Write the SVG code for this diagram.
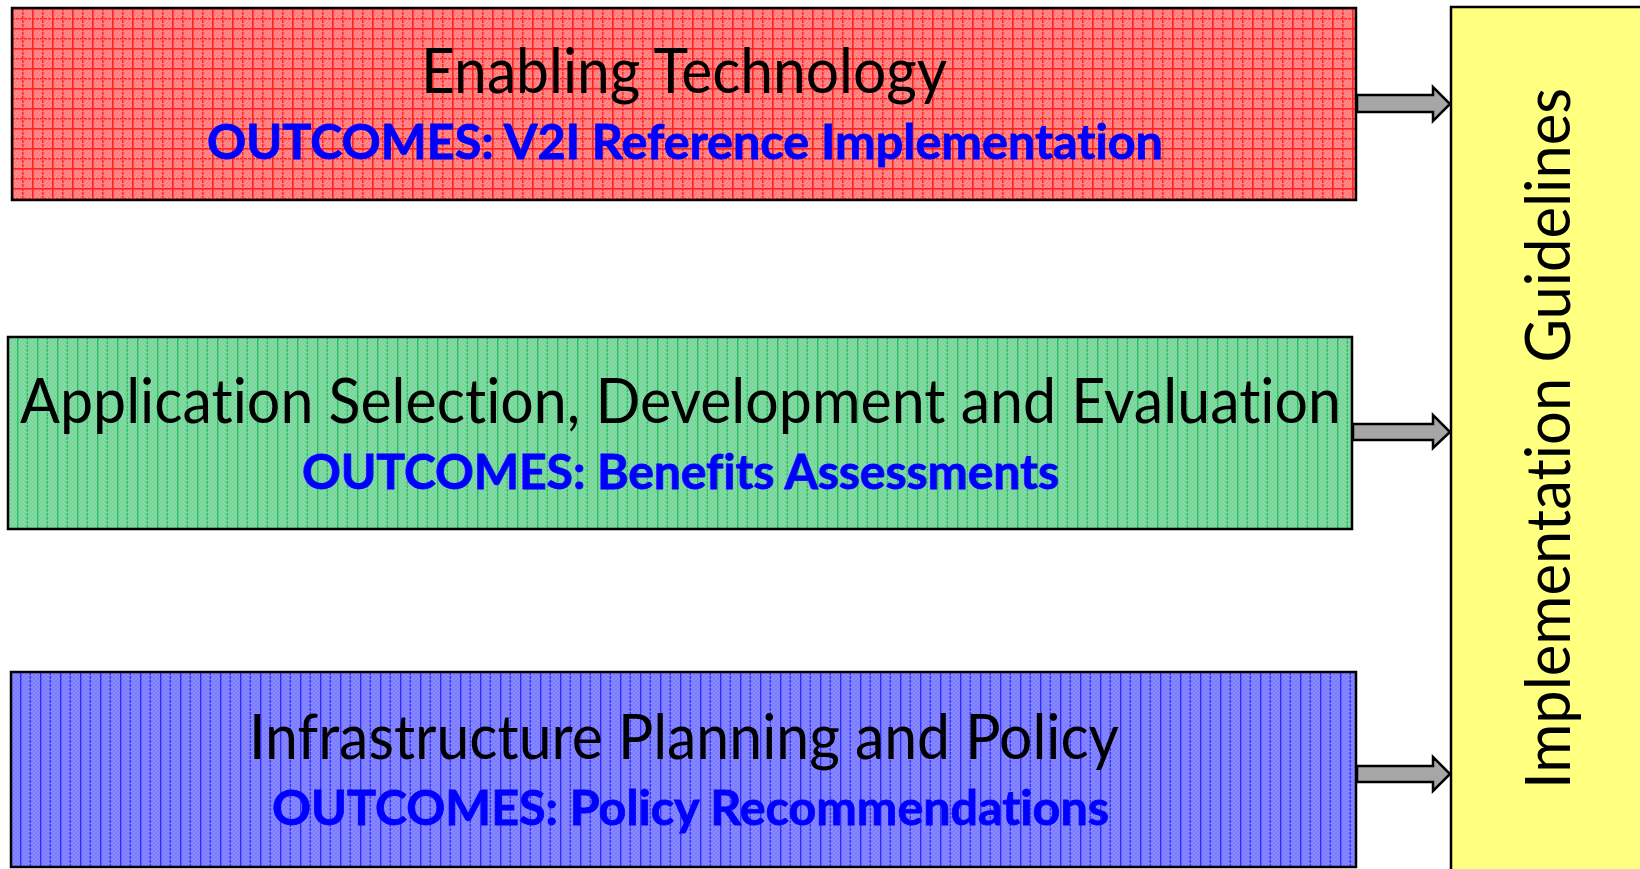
<svg xmlns="http://www.w3.org/2000/svg" width="1640" height="869" viewBox="0 0 1640 869">
<defs>
<pattern id="chkR" width="4" height="4" patternUnits="userSpaceOnUse"><rect width="4" height="4" fill="#FF8A8A"/><rect width="2" height="2" fill="#FF7A7A"/><rect x="2" y="2" width="2" height="2" fill="#FF7A7A"/></pattern>
<pattern id="gridR" width="20" height="20" patternUnits="userSpaceOnUse" x="12" y="8">
<rect width="20" height="20" fill="url(#chkR)"/>
<rect x="0" y="0" width="1.6" height="20" fill="#FF2020"/>
<rect x="0" y="0" width="20" height="1.6" fill="#FF2020"/>
<line x1="10.8" y1="0" x2="10.8" y2="20" stroke="#FF2A2A" stroke-width="1.6" stroke-dasharray="3 1"/>
<line x1="0" y1="10.8" x2="20" y2="10.8" stroke="#FF2A2A" stroke-width="1.6" stroke-dasharray="3 1"/>
</pattern>
<pattern id="chkG" width="4" height="4" patternUnits="userSpaceOnUse"><rect width="4" height="4" fill="#86DCA6"/><rect width="2" height="2" fill="#76D498"/><rect x="2" y="2" width="2" height="2" fill="#76D498"/></pattern>
<pattern id="vG" width="20" height="20" patternUnits="userSpaceOnUse" x="8" y="337">
<rect width="20" height="20" fill="url(#chkG)"/>
<rect x="9" y="0" width="1.4" height="20" fill="#2DBE62"/>
<line x1="19.3" y1="0" x2="19.3" y2="20" stroke="#33C266" stroke-width="1.4" stroke-dasharray="3 1"/>
</pattern>
<pattern id="chkB" width="4" height="4" patternUnits="userSpaceOnUse"><rect width="4" height="4" fill="#8A8AFF"/><rect width="2" height="2" fill="#7A7AFF"/><rect x="2" y="2" width="2" height="2" fill="#7A7AFF"/></pattern>
<pattern id="vB" width="20" height="20" patternUnits="userSpaceOnUse" x="11" y="672">
<rect width="20" height="20" fill="url(#chkB)"/>
<rect x="9" y="0" width="1.4" height="20" fill="#2E2EFF"/>
<line x1="19.3" y1="0" x2="19.3" y2="20" stroke="#3535FF" stroke-width="1.4" stroke-dasharray="3 1"/>
</pattern>
</defs>
<style>
.box{stroke:#000;stroke-width:2.5}
.t{font-family:"Lato","Open Sans","Liberation Sans",sans-serif;font-size:62px;fill:#000;font-variant-ligatures:none}
.o{font-family:"Lato","Open Sans","Liberation Sans",sans-serif;font-size:48px;font-weight:bold;fill:#0000FF;font-variant-ligatures:none;stroke:#0000FF;stroke-width:0.8}
.arr{fill:#A6A6A6;stroke:#000;stroke-width:2.5;stroke-linejoin:miter}
</style>
<g id="enabling-technology">
<rect class="box" x="12" y="8" width="1344" height="192" fill="url(#gridR)"/>
<text class="t" x="421" y="93" textLength="526" lengthAdjust="spacingAndGlyphs">Enabling Technology</text>
<text class="o" x="207" y="159" textLength="956" lengthAdjust="spacingAndGlyphs">OUTCOMES: V2I Reference Implementation</text>
</g>
<g id="application-selection">
<rect class="box" x="8" y="337" width="1344" height="192" fill="url(#vG)"/>
<text class="t" x="20" y="423" textLength="1321" lengthAdjust="spacingAndGlyphs">Application Selection, Development and Evaluation</text>
<text class="o" x="302" y="489" textLength="757" lengthAdjust="spacingAndGlyphs">OUTCOMES: Benefits Assessments</text>
</g>
<g id="infrastructure-planning">
<rect class="box" x="11" y="672" width="1345" height="195" fill="url(#vB)"/>
<text class="t" x="249" y="759" textLength="870" lengthAdjust="spacingAndGlyphs">Infrastructure Planning and Policy</text>
<text class="o" x="272" y="825" textLength="837" lengthAdjust="spacingAndGlyphs">OUTCOMES: Policy Recommendations</text>
</g>
<g id="implementation-guidelines">
<rect class="box" x="1451" y="7" width="200" height="875" fill="#FFFF80"/>
<text class="t" transform="translate(1570,789) rotate(-90)" x="0" y="0" font-size="64" textLength="701" lengthAdjust="spacingAndGlyphs">Implementation Guidelines</text>
</g>
<g id="connectors">
<polygon class="arr" points="1357,95 1433,95 1433,87 1450,104 1433,121 1433,112 1357,112"/>
<polygon class="arr" points="1353,424 1433,424 1433,415 1450,432 1433,448 1433,440 1353,440"/>
<polygon class="arr" points="1357,766 1433,766 1433,757 1450,774 1433,791 1433,782 1357,782"/>
</g>
</svg>
